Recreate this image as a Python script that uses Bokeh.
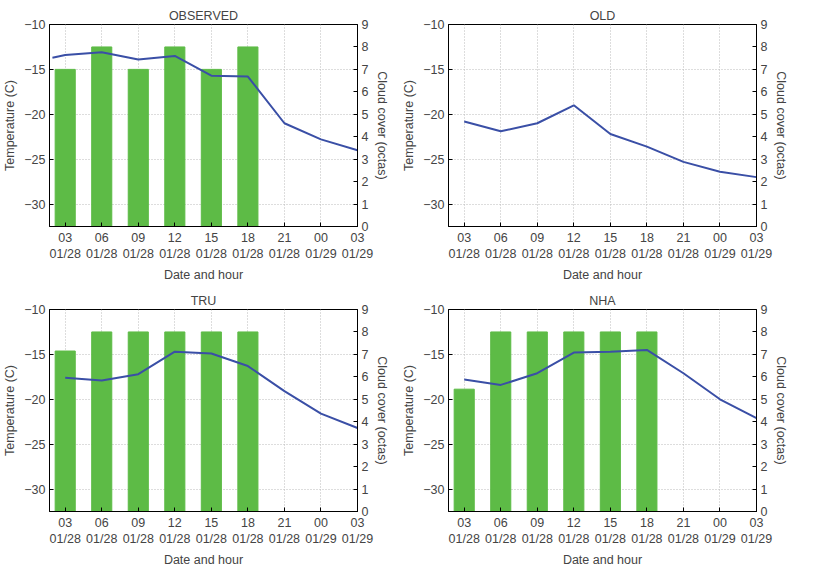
from bokeh.plotting import figure
from bokeh.layouts import gridplot
from bokeh.models import Range1d, LinearAxis, Label, FixedTicker
from bokeh.embed import file_html
from bokeh.resources import INLINE

tick_labels = ["03\n01/28", "06\n01/28", "09\n01/28", "12\n01/28", "15\n01/28",
               "18\n01/28", "21\n01/28", "00\n01/29", "03\n01/29"]
steps = [0, 1, 2, 3, 4, 5, 6, 7, 8]
bar_steps = [0, 1, 2, 3, 4, 5]

obs_x = [-0.35, 0, 1, 2, 3, 4, 5, 6, 7, 8]
obs_temp = [-13.7, -13.4, -13.1, -13.9, -13.5, -15.7, -15.8, -21.0, -22.8, -24.0]
obs_cloud = [7, 8, 7, 8, 7, 8]
old_temp = [-20.8, -21.9, -21.0, -19.0, -22.2, -23.6, -25.3, -26.4, -27.0]
tru_temp = [-17.6, -17.9, -17.2, -14.7, -14.9, -16.3, -19.1, -21.6, -23.2]
tru_cloud = [7.15, 8, 8, 8, 8, 8]
nha_temp = [-17.8, -18.4, -17.1, -14.8, -14.7, -14.5, -17.1, -20.0, -22.1]
nha_cloud = [5.45, 8, 8, 8, 8, 8]

GREEN = "#5dbb46"
BLUE = "#3a4fa6"
FONT = "Liberation Sans"

def panel(tag, name, xs, temps, cloud):
    p = figure(width=399, height=285, output_backend="svg", toolbar_location=None,
               x_range=Range1d(-0.43, 8), y_range=Range1d(-32.5, -10),
               min_border_left=44, min_border_right=42, min_border_top=24)
    p.extra_y_ranges = {"cloud": Range1d(0, 9)}
    p.title.text = name
    p.title.align = "center"
    p.title.text_font = FONT
    p.title.text_font_size = "12.5px"
    p.title.text_font_style = "normal"
    p.title.standoff = 4
    if cloud:
        p.vbar(x=bar_steps[:len(cloud)], top=cloud, bottom=0, width=0.55,
               color=GREEN, y_range_name="cloud")
    p.line(xs, temps, color=BLUE, line_width=2)
    p.xaxis.ticker = FixedTicker(ticks=steps)
    p.xaxis.major_label_overrides = {s: t for s, t in zip(steps, tick_labels)}
    p.xaxis.axis_label = "Date and hour"
    p.yaxis.ticker = FixedTicker(ticks=[-30, -25, -20, -15, -10])
    p.yaxis.major_label_overrides = {v: "\u2212" + str(-v) for v in [-30, -25, -20, -15, -10]}
    p.yaxis.axis_label = "Temperature (C)"
    ra = LinearAxis(y_range_name="cloud", axis_label="Cloud cover (octas)",
                    ticker=FixedTicker(ticks=list(range(10))))
    p.add_layout(ra, "right")
    for ax in p.axis:
        ax.major_label_text_font = FONT
        ax.major_label_text_font_size = "12.5px"
        ax.axis_label_text_font = FONT
        ax.axis_label_text_font_size = "12.5px"
        ax.axis_label_text_font_style = "normal"
        ax.axis_line_color = "black"
        ax.major_tick_line_color = "black"
        ax.major_tick_in = 4
        ax.major_tick_out = 0
        ax.minor_tick_line_color = None
        ax.major_label_standoff = 4
        ax.axis_label_standoff = 4
    p.outline_line_color = "black"
    p.grid.grid_line_color = "#bbbbbb"
    p.grid.grid_line_dash = "1 2"
    p.add_layout(Label(x=-0.43, y=-10, x_offset=-42, y_offset=6, text=tag,
                       text_font=FONT, text_font_size="12.5px"))
    return p

pa = panel("(a)", "OBSERVED", obs_x, obs_temp, obs_cloud)
pb = panel("(b)", "OLD", steps, old_temp, None)
pc = panel("(c)", "TRU", steps, tru_temp, tru_cloud)
pd = panel("(d)", "NHA", steps, nha_temp, nha_cloud)

g = gridplot([[pa, pb], [pc, pd]], toolbar_location=None)
open("out.html", "w").write(file_html(g, INLINE))
